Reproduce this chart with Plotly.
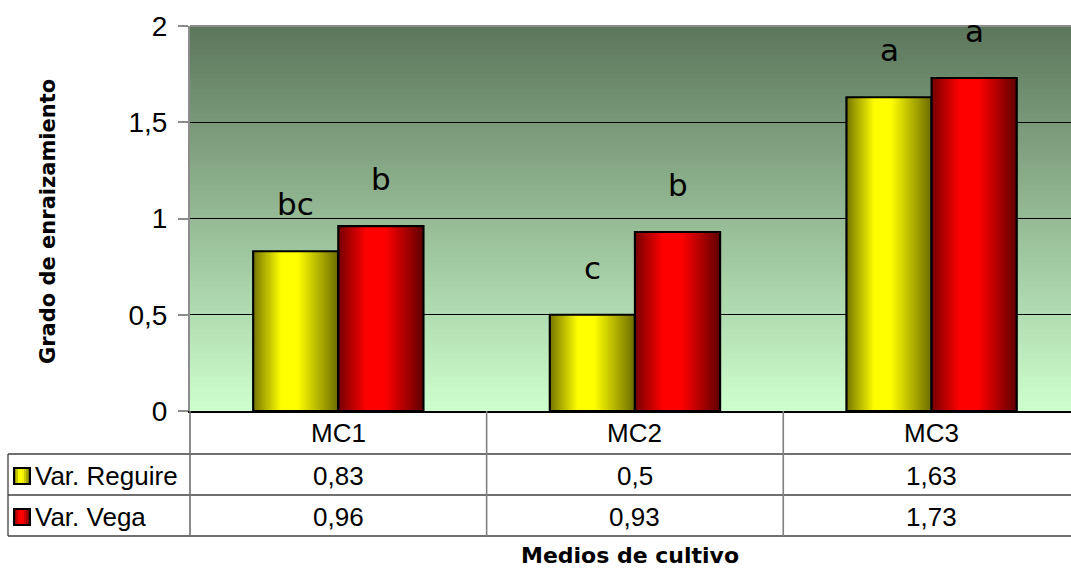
import plotly.graph_objects as go

# Data
categories = ["MC1", "MC2", "MC3"]
series_names = ["Var. Reguire", "Var. Vega"]
reguire = [0.83, 0.5, 1.63]
vega = [0.96, 0.93, 1.73]
reguire_labels = ["0,83", "0,5", "1,63"]
vega_labels = ["0,96", "0,93", "1,73"]
reguire_letters = ["bc", "c", "a"]
vega_letters = ["b", "b", "a"]
y_ticks = [0, 0.5, 1, 1.5, 2]
y_tick_text = ["0", "0,5", "1", "1,5", "2"]

W, H = 1071, 569
L, R, T, B = 190, 0, 26, 158
PW = W - L - R
PH = H - T - B

BAR_W = 0.287
N_STRIPS = 60


def lerp(c1, c2, t):
    return tuple(round(a + (b - a) * t) for a, b in zip(c1, c2))


def ramp(stops, t):
    for (t0, c0), (t1, c1) in zip(stops, stops[1:]):
        if t <= t1:
            return lerp(c0, c1, (t - t0) / (t1 - t0) if t1 > t0 else 0)
    return stops[-1][1]


yellow_stops = [(0.0, (118, 118, 0)), (0.33, (255, 255, 0)), (0.52, (255, 255, 0)), (1.0, (108, 108, 0))]
red_stops = [(0.0, (118, 0, 0)), (0.33, (255, 0, 0)), (0.55, (255, 0, 0)), (1.0, (96, 0, 0))]


def rgb(c):
    return "rgb(%d,%d,%d)" % c


fig = go.Figure()

# Shaded bars: each strip runs from its own left edge to the bar's right edge,
# drawn left to right so later strips overlap earlier ones without seams
for values, stops, base_off in [(reguire, yellow_stops, -BAR_W), (vega, red_stops, 0.0)]:
    sw = BAR_W / N_STRIPS
    for i in range(N_STRIPS):
        t = (i + 0.5) / N_STRIPS
        fig.add_trace(go.Bar(
            x=categories, y=values,
            width=BAR_W - i * sw, offset=base_off + i * sw,
            marker=dict(color=rgb(ramp(stops, t)), line=dict(width=0)),
            showlegend=False, hoverinfo="skip",
        ))
    # outline
    fig.add_trace(go.Bar(
        x=categories, y=values,
        width=BAR_W, offset=base_off,
        marker=dict(color="rgba(0,0,0,0)", line=dict(color="black", width=2.2)),
        showlegend=False, hoverinfo="skip",
    ))

# Significance letters above the bars
letter_font = dict(family="DejaVu Sans, sans-serif", size=31, color="black")
for i, cat in enumerate(categories):
    fig.add_annotation(x=i - BAR_W / 2, y=reguire[i] + 0.245, xref="x", yref="y",
                       text=reguire_letters[i], showarrow=False, font=letter_font,
                       xanchor="center", yanchor="middle")
    fig.add_annotation(x=i + BAR_W / 2, y=vega[i] + 0.245, xref="x", yref="y",
                       text=vega_letters[i], showarrow=False, font=letter_font,
                       xanchor="center", yanchor="middle")

shapes = []

# Vertical green gradient behind the plot area
N_BG = 80
top_c, bot_c = (92, 118, 92), (206, 255, 206)
for k in range(N_BG):
    y0 = k / N_BG
    y1 = (k + 1) / N_BG
    c = lerp(bot_c, top_c, (k + 0.5) / N_BG)
    shapes.append(dict(type="rect", xref="paper", yref="paper", x0=0, x1=1, y0=y0, y1=y1 + 0.002,
                       fillcolor=rgb(c), line=dict(width=0), layer="below"))

# Top border of the plot area
shapes.append(dict(type="line", xref="paper", yref="paper", x0=0, x1=1, y0=1, y1=1,
                   line=dict(color="#8c8c8c", width=2), layer="above"))


def py(pix):
    return (T + PH - pix) / PH


def px(pix):
    return (pix - L) / PW


# Data table grid under the plot
row_lines = [454, 495, 536]
left_edge = 8
for yy in row_lines:
    shapes.append(dict(type="line", xref="paper", yref="paper", x0=px(left_edge), x1=1,
                       y0=py(yy), y1=py(yy), line=dict(color="#404040", width=1.3)))
shapes.append(dict(type="line", xref="paper", yref="paper", x0=px(left_edge), x1=px(left_edge),
                   y0=py(row_lines[0]), y1=py(row_lines[-1]), line=dict(color="#404040", width=1.3)))
shapes.append(dict(type="line", xref="paper", yref="paper", x0=0, x1=0,
                   y0=0, y1=py(row_lines[-1]), line=dict(color="#707070", width=1.6)))
for xb in [0.5, 1.5]:
    shapes.append(dict(type="line", xref="x", yref="paper", x0=xb, x1=xb,
                       y0=0, y1=py(row_lines[-1]), line=dict(color="#808080", width=1.6)))

table_font = dict(family="Liberation Sans, Arial, sans-serif", size=26, color="black")
row_centers = [433, 476, 517]
for i, cat in enumerate(categories):
    for text, yc in [(cat, row_centers[0]), (reguire_labels[i], row_centers[1]), (vega_labels[i], row_centers[2])]:
        fig.add_annotation(x=i, y=py(yc), xref="x", yref="paper", text=text,
                           showarrow=False, font=table_font, xanchor="center", yanchor="middle")

# Legend keys inside the table
for name, stops, yc in [(series_names[0], yellow_stops, row_centers[1]), (series_names[1], red_stops, row_centers[2])]:
    kx0, kx1 = 14, 30
    ky0, ky1 = yc - 8, yc + 8
    n = 8
    for j in range(n):
        a = kx0 + (kx1 - kx0) * j / n
        b = kx0 + (kx1 - kx0) * (j + 1) / n
        shapes.append(dict(type="rect", xref="paper", yref="paper", x0=px(a), x1=px(b) + 0.001,
                           y0=py(ky1), y1=py(ky0), fillcolor=rgb(ramp(stops, (j + 0.5) / n)),
                           line=dict(width=0)))
    shapes.append(dict(type="rect", xref="paper", yref="paper", x0=px(kx0), x1=px(kx1),
                       y0=py(ky1), y1=py(ky0), line=dict(color="black", width=2)))
    fig.add_annotation(x=px(33), y=py(yc), xref="paper", yref="paper", text=name,
                       xanchor="left", yanchor="middle", showarrow=False, font=table_font)

fig.add_annotation(x=px(48), y=py(222), xref="paper", yref="paper", text="Grado de enraizamiento",
                   textangle=-90, showarrow=False, xanchor="center", yanchor="middle",
                   font=dict(family="DejaVu Sans, sans-serif", size=21, color="black", weight="bold"))
fig.add_annotation(x=px(630), y=py(555), xref="paper", yref="paper", text="Medios de cultivo",
                   showarrow=False, xanchor="center", yanchor="middle",
                   font=dict(family="DejaVu Sans, sans-serif", size=22, color="black", weight="bold"))

fig.update_layout(
    width=W, height=H,
    margin=dict(l=L, r=R, t=T, b=B, pad=0),
    paper_bgcolor="white", plot_bgcolor="rgba(0,0,0,0)",
    barmode="overlay",
    shapes=shapes,
    showlegend=False,
    xaxis=dict(range=[-0.5, 2.47], showticklabels=False, ticks="", showgrid=False,
               showline=True, linecolor="black", linewidth=1.5, zeroline=False, fixedrange=True),
    yaxis=dict(range=[0, 2], tickvals=y_ticks, ticktext=y_tick_text,
               showgrid=True, gridcolor="black", gridwidth=1,
               showline=True, linecolor="#8c8c8c", linewidth=2,
               ticks="outside", ticklen=10, tickcolor="#8c8c8c", tickwidth=1.5,
               ticklabelstandoff=5,
               tickfont=dict(family="Liberation Sans, Arial, sans-serif", size=28, color="black"),
               zeroline=False, fixedrange=True),
)

fig.write_html("out.html", config={"displayModeBar": False})
